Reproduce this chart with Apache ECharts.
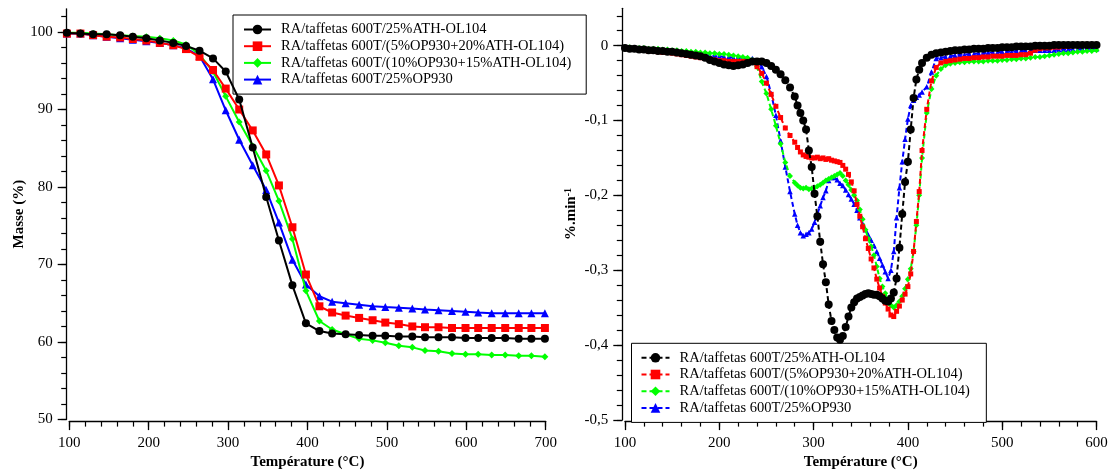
<!DOCTYPE html>
<html><head><meta charset="utf-8">
<script src="https://cdn.jsdelivr.net/npm/echarts@6/dist/echarts.min.js"></script>
<style>html,body{margin:0;padding:0;background:#fff}#c{width:1114px;height:475px}</style>
</head><body><div id="c"></div>
<script>
// ---------- names ----------
const seriesNames = [
  'RA/taffetas 600T/25%ATH-OL104',
  'RA/taffetas 600T/(5%OP930+20%ATH-OL104)',
  'RA/taffetas 600T/(10%OP930+15%ATH-OL104)',
  'RA/taffetas 600T/25%OP930'
];
const seriesColors = ['#000000', '#ff0000', '#00ff00', '#0000ff'];

// ---------- left chart : TGA (mass %) ----------
const tgaTemp = [97,114,130,147,164,180,197,214,231,247,264,281,297,314,331,348,364,381,398,415,431,448,465,482,498,515,532,548,565,582,599,615,632,649,666,682,699];
const tgaBlack = [99.9,99.8,99.7,99.7,99.6,99.4,99.2,98.9,98.6,98.2,97.6,96.6,94.9,91.3,85.1,78.7,73.1,67.3,62.4,61.4,61.1,61.0,60.9,60.8,60.8,60.7,60.7,60.6,60.6,60.6,60.5,60.5,60.5,60.5,60.4,60.4,60.4];
const tgaRed   = [99.8,99.8,99.6,99.4,99.3,99.1,98.9,98.6,98.3,97.8,96.8,95.1,92.7,90.0,87.3,84.2,80.2,74.8,68.7,64.6,63.8,63.4,63.1,62.8,62.5,62.3,62.0,61.9,61.9,61.8,61.8,61.8,61.8,61.8,61.8,61.8,61.8];
const tgaGreen = [99.9,99.9,99.8,99.7,99.6,99.5,99.4,99.2,98.9,98.4,97.1,94.9,91.7,88.4,85.3,82.1,78.2,73.3,66.6,62.7,61.6,61.0,60.4,60.2,59.9,59.5,59.3,58.9,58.8,58.5,58.4,58.4,58.3,58.3,58.2,58.2,58.1];
const tgaBlue  = [99.8,99.8,99.6,99.4,99.2,99.0,98.8,98.6,98.3,97.9,96.9,93.9,89.9,86.1,82.8,79.6,75.4,70.6,67.4,65.9,65.2,65.0,64.8,64.6,64.5,64.4,64.3,64.2,64.1,64.0,63.9,63.8,63.7,63.7,63.7,63.7,63.7];

// ---------- right chart : DTG (%.min-1) ----------
const dtgTemp = [
  100,105,110,115,120,125,130,135,140,145,150,155,160,165,170,175,180,185,190,195,200,205,210,215,220,225,230,235,240,245,250,255,260,265,270,275,280,
  283,286,289,292,295,298,301,304,307,310,313,316,319,322,325,328,331,334,337,340,343,346,349,352,355,358,361,364,367,370,373,376,379,382,385,388,391,394,397,400,403,406,409,412,415,
  420,425,430,435,440,445,450,455,460,465,470,475,480,485,490,495,500,505,510,515,520,525,530,535,540,545,550,555,560,565,570,575,580,585,590,595,600
];
const dtgBlack = [
  -0.003,-0.004,-0.004,-0.005,-0.005,-0.006,-0.006,-0.007,-0.007,-0.008,-0.008,-0.009,-0.010,-0.011,-0.012,-0.013,-0.014,-0.016,-0.019,-0.021,-0.023,-0.025,-0.026,-0.027,-0.026,-0.025,-0.023,-0.021,-0.021,-0.021,-0.023,-0.027,-0.032,-0.038,-0.046,-0.056,-0.068,
  -0.080,-0.090,-0.100,-0.112,-0.140,-0.162,-0.198,-0.228,-0.262,-0.292,-0.316,-0.346,-0.368,-0.380,-0.390,-0.393,-0.388,-0.376,-0.362,-0.350,-0.343,-0.338,-0.336,-0.334,-0.332,-0.331,-0.332,-0.333,-0.333,-0.335,-0.338,-0.341,-0.342,-0.338,-0.330,-0.311,-0.270,-0.225,-0.182,-0.155,-0.112,-0.070,-0.045,-0.032,-0.023,
  -0.016,-0.012,-0.010,-0.009,-0.008,-0.007,-0.006,-0.006,-0.005,-0.005,-0.004,-0.004,-0.004,-0.003,-0.003,-0.003,-0.002,-0.002,-0.002,-0.001,-0.001,-0.001,-0.001,0.000,0.000,0.000,0.000,0.001,0.001,0.001,0.001,0.001,0.001,0.001,0.001,0.001,0.001
];
const dtgRed = [
  -0.003,-0.004,-0.005,-0.005,-0.006,-0.007,-0.007,-0.008,-0.009,-0.009,-0.010,-0.011,-0.012,-0.013,-0.014,-0.015,-0.016,-0.017,-0.018,-0.019,-0.020,-0.020,-0.021,-0.021,-0.021,-0.021,-0.021,-0.022,-0.028,-0.037,-0.050,-0.065,-0.081,-0.096,-0.110,-0.120,-0.129,
  -0.136,-0.142,-0.146,-0.148,-0.149,-0.150,-0.150,-0.149,-0.151,-0.150,-0.152,-0.151,-0.153,-0.154,-0.155,-0.156,-0.160,-0.165,-0.172,-0.182,-0.194,-0.212,-0.228,-0.242,-0.258,-0.271,-0.285,-0.297,-0.312,-0.324,-0.335,-0.344,-0.352,-0.360,-0.362,-0.355,-0.348,-0.340,-0.332,-0.322,-0.305,-0.275,-0.235,-0.195,-0.140,
  -0.085,-0.047,-0.029,-0.023,-0.021,-0.020,-0.019,-0.018,-0.017,-0.017,-0.016,-0.016,-0.015,-0.015,-0.014,-0.014,-0.014,-0.013,-0.013,-0.013,-0.012,-0.012,-0.010,-0.006,-0.004,-0.003,-0.003,-0.002,-0.002,-0.001,-0.001,0.000,0.000,0.001,0.001,0.001,0.001
];
const dtgGreen = [
  -0.002,-0.002,-0.003,-0.003,-0.003,-0.004,-0.004,-0.004,-0.005,-0.005,-0.006,-0.006,-0.007,-0.007,-0.008,-0.008,-0.009,-0.009,-0.010,-0.010,-0.011,-0.011,-0.012,-0.013,-0.014,-0.015,-0.016,-0.019,-0.028,-0.048,-0.064,-0.085,-0.107,-0.131,-0.156,-0.174,-0.183,
  -0.187,-0.190,-0.191,-0.190,-0.192,-0.191,-0.190,-0.188,-0.186,-0.183,-0.180,-0.178,-0.176,-0.174,-0.172,-0.170,-0.174,-0.180,-0.186,-0.193,-0.200,-0.207,-0.219,-0.232,-0.246,-0.258,-0.268,-0.280,-0.295,-0.311,-0.322,-0.331,-0.340,-0.347,-0.350,-0.347,-0.342,-0.335,-0.325,-0.312,-0.298,-0.275,-0.240,-0.200,-0.150,
  -0.090,-0.058,-0.040,-0.031,-0.026,-0.024,-0.023,-0.022,-0.022,-0.021,-0.021,-0.021,-0.021,-0.020,-0.020,-0.020,-0.019,-0.019,-0.018,-0.018,-0.017,-0.017,-0.016,-0.015,-0.015,-0.014,-0.013,-0.012,-0.011,-0.010,-0.010,-0.009,-0.008,-0.008,-0.007,-0.007,-0.006
];
const dtgBlue = [
  -0.003,-0.003,-0.004,-0.004,-0.005,-0.005,-0.006,-0.006,-0.007,-0.008,-0.008,-0.009,-0.010,-0.010,-0.011,-0.012,-0.012,-0.013,-0.013,-0.014,-0.014,-0.015,-0.015,-0.016,-0.016,-0.016,-0.017,-0.017,-0.020,-0.028,-0.041,-0.064,-0.093,-0.127,-0.162,-0.195,-0.225,
  -0.240,-0.250,-0.254,-0.252,-0.250,-0.245,-0.236,-0.225,-0.214,-0.203,-0.194,-0.180,-0.176,-0.176,-0.179,-0.184,-0.187,-0.193,-0.199,-0.205,-0.212,-0.220,-0.230,-0.238,-0.246,-0.253,-0.260,-0.267,-0.275,-0.284,-0.293,-0.302,-0.311,-0.300,-0.275,-0.230,-0.190,-0.155,-0.125,-0.098,-0.080,-0.073,-0.069,-0.066,-0.062,
  -0.055,-0.035,-0.017,-0.016,-0.015,-0.014,-0.013,-0.012,-0.012,-0.011,-0.011,-0.010,-0.010,-0.009,-0.009,-0.009,-0.008,-0.008,-0.008,-0.007,-0.007,-0.007,-0.007,-0.006,-0.006,-0.006,-0.006,-0.006,-0.005,-0.005,-0.005,-0.005,-0.005,-0.004,-0.004,-0.004,-0.004
];

// ---------- axis ticks ----------
const leftXTicks = [100,200,300,400,500,600,700];
const leftYTicks = [50,60,70,80,90,100];
const rightXTicks = [100,200,300,400,500,600];
const rightYTicks = [-0.5,-0.4,-0.3,-0.2,-0.1,0];

function minorTicks(from, to, step, scale) {
  const out = [];
  const n = Math.round((to - from) / step);
  for (let k = 0; k <= n; k++) out.push(Math.round((from + k * step) * scale) / scale);
  return out;
}
const leftXMinor = minorTicks(100, 700, 20, 1);
const leftYMinor = minorTicks(50, 102, 2, 1);
const rightXMinor = minorTicks(100, 600, 20, 1);
const rightYMinor = minorTicks(-0.5, 0.04, 0.02, 1000);

const FONT = 'Liberation Serif';
const AX = '#000';

function mainAxis(o) {
  return Object.assign({
    type: 'value',
    axisLine: { show: true, onZero: false, lineStyle: { color: AX, width: 1.3 } },
    axisTick: { show: true, inside: false, length: 9, customValues: o.ticks, lineStyle: { color: AX, width: 1.3 } },
    axisLabel: { customValues: o.ticks, margin: 14, color: '#000', fontFamily: FONT, fontSize: 15, formatter: o.fmt },
    splitLine: { show: false },
    nameLocation: 'middle',
    nameTextStyle: { fontFamily: FONT, fontSize: 15, fontWeight: 'bold', color: '#000' }
  }, o.extra);
}
function minorAxis(o) {
  return Object.assign({
    type: 'value',
    axisLine: { show: false, onZero: false },
    axisTick: { show: true, inside: false, length: 5.5, customValues: o.ticks, lineStyle: { color: AX, width: 1.2 } },
    axisLabel: { show: false },
    splitLine: { show: false }
  }, o.extra);
}

const fmtComma = v => (v === 0 ? '0' : v.toFixed(1).replace('.', ','));

const tgaData = [tgaBlack, tgaRed, tgaGreen, tgaBlue];
const dtgData = [dtgBlack, dtgRed, dtgGreen, dtgBlue];
const tgaSymbols = [['circle', 8], ['rect', 8], ['diamond', 7], ['triangle', 8]];
const dtgSymbols = [['circle', 8], ['rect', 5], ['diamond', 6], ['triangle', 5.5]];
const dtgNames = seriesNames.map(n => n + ' ');

const series = [];
[3, 2, 1, 0].forEach(i => {
  series.push({
    type: 'line', name: seriesNames[i], xAxisIndex: 0, yAxisIndex: 0,
    data: tgaTemp.map((t, k) => [t, tgaData[i][k]]),
    symbol: tgaSymbols[i][0], symbolSize: tgaSymbols[i][1], showSymbol: true,
    lineStyle: { color: seriesColors[i], width: 2 },
    itemStyle: { color: seriesColors[i] },
    clip: false, z: 2 + (3 - i), animation: false
  });
});
[3, 2, 1, 0].forEach(i => {
  series.push({
    type: 'line', name: dtgNames[i], xAxisIndex: 2, yAxisIndex: 2,
    data: dtgTemp.map((t, k) => [t, dtgData[i][k]]),
    symbol: dtgSymbols[i][0], symbolSize: dtgSymbols[i][1], showSymbol: true,
    lineStyle: { color: seriesColors[i], width: 2, type: [5, 3] },
    itemStyle: { color: seriesColors[i] },
    clip: false, z: 2 + (3 - i), animation: false
  });
});

const legendBase = {
  orient: 'vertical', selectedMode: false,
  borderColor: '#000', borderWidth: 1, backgroundColor: '#fff',
  itemHeight: 12, itemGap: 1.7,
  textStyle: { fontFamily: FONT, fontSize: 14.5, lineHeight: 15, color: '#000', padding: [0, 0, 0, 5] }
};

const option = {
  backgroundColor: '#fff',
  animation: false,
  grid: [
    { left: 69.3, right: 568.3, top: 8.8, bottom: 51.7, containLabel: false },
    { left: 625, right: 17.5, top: 8.3, bottom: 52.3, containLabel: false }
  ],
  xAxis: [
    mainAxis({ ticks: leftXTicks, extra: { gridIndex: 0, position: 'bottom', offset: 1.7, min: 100, max: 700, name: 'Température (°C)', nameGap: 33 } }),
    minorAxis({ ticks: leftXMinor, extra: { gridIndex: 0, position: 'bottom', offset: 1.7, min: 100, max: 700 } }),
    mainAxis({ ticks: rightXTicks, extra: { gridIndex: 1, position: 'bottom', offset: 1.3, min: 100, max: 600, name: 'Température (°C)', nameGap: 33 } }),
    minorAxis({ ticks: rightXMinor, extra: { gridIndex: 1, position: 'bottom', offset: 1.3, min: 100, max: 600 } })
  ],
  yAxis: [
    mainAxis({ ticks: leftYTicks, extra: { gridIndex: 0, position: 'left', offset: 2.6, min: 50, max: 103, name: 'Masse (%)', nameGap: 40 } }),
    minorAxis({ ticks: leftYMinor, extra: { gridIndex: 0, position: 'left', offset: 2.6, min: 50, max: 103 } }),
    mainAxis({ ticks: rightYTicks, fmt: fmtComma, extra: { gridIndex: 1, position: 'left', offset: 2.7, min: -0.5, max: 0.05,
      name: '{a|%.min}{b|-1}', nameGap: 44,
      nameTextStyle: { fontFamily: FONT, fontSize: 15, fontWeight: 'bold', color: '#000',
        rich: { a: { fontFamily: FONT, fontSize: 15, fontWeight: 'bold', color: '#000' },
                b: { fontFamily: FONT, fontSize: 10, fontWeight: 'bold', color: '#000', verticalAlign: 'top' } } } } }),
    minorAxis({ ticks: rightYMinor, extra: { gridIndex: 1, position: 'left', offset: 2.7, min: -0.5, max: 0.05 } })
  ],
  legend: [
    Object.assign({}, legendBase, { left: 233, top: 15, itemWidth: 27, padding: [7, 15, 7, 10], data: seriesNames }),
    Object.assign({}, legendBase, { left: 631.5, top: 343.3, itemWidth: 28, padding: [7, 13, 7, 9], data: dtgNames })
  ],
  series: series
};

const chart = echarts.init(document.getElementById('c'), null, { renderer: 'canvas' });
chart.setOption(option);
</script>
</body></html>
